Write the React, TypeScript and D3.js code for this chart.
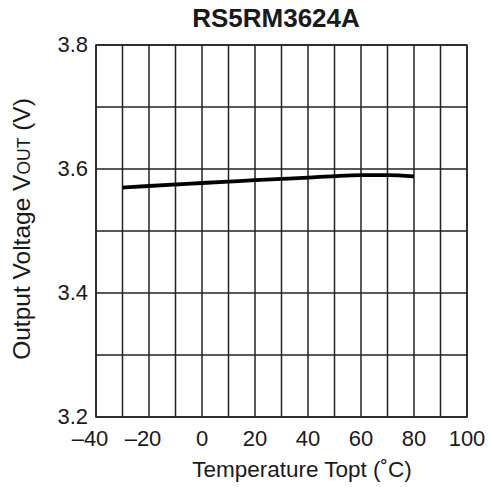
import React from "react";
import * as d3 from "d3";

const temps = [-30, -20, -10, 0, 10, 20, 30, 40, 50, 60, 70, 80];
const vout = [3.570, 3.5726, 3.575, 3.5774, 3.5797, 3.582, 3.584, 3.586, 3.5885, 3.5900, 3.5900, 3.588];
const xTicks = [-40, -20, 0, 20, 40, 60, 80, 100];
const xGrid = d3.range(-40, 101, 10);
const yTicks = [3.2, 3.4, 3.6, 3.8];
const yGrid = [3.2, 3.3, 3.4, 3.5, 3.6, 3.7, 3.8];
const title = "RS5RM3624A";

export default function App() {
  const W = 488, H = 487;
  const L = 96, R = 467, T = 45, B = 417;
  const x = d3.scaleLinear().domain([-40, 100]).range([L, R]);
  const y = d3.scaleLinear().domain([3.2, 3.8]).range([B, T]);
  const line = d3.line<number>().x((_, i) => x(temps[i])).y((d) => y(d)).curve(d3.curveMonotoneX);
  const font = "'Liberation Sans', Arial, Helvetica, sans-serif";
  const fmtX = (v: number) => (v < 0 ? "\u2013" + Math.abs(v) : String(v));
  return (
    <svg width={W} height={H} style={{ position: "absolute", left: 0, top: 0, background: "#fff" }} fontFamily={font}>
      <rect x={0} y={0} width={W} height={H} fill="#fff" />
      <text x={276} y={27} textAnchor="middle" fontSize={26} fontWeight="bold" fill="#1a1a1a">{title}</text>
      {xGrid.map((v) => (
        <line key={"x" + v} x1={x(v)} x2={x(v)} y1={T} y2={B} stroke="#222" strokeWidth={1.5} />
      ))}
      {yGrid.map((v) => (
        <line key={"y" + v} x1={L} x2={R} y1={y(v)} y2={y(v)} stroke="#222" strokeWidth={1.5} />
      ))}
      <rect x={L} y={T} width={R - L} height={B - T} fill="none" stroke="#222" strokeWidth={1.5} />
      <path d={line(vout) || ""} fill="none" stroke="#000" strokeWidth={3.8} />
      {yTicks.map((v) => (
        <text key={"yl" + v} x={88} y={y(v) + 7} textAnchor="end" fontSize={22} fill="#1a1a1a">{v.toFixed(1)}</text>
      ))}
      {xTicks.map((v) => (
        <text key={"xl" + v} x={x(v) + (v < 0 ? -6 : 0)} y={446} textAnchor="middle" fontSize={22} fill="#1a1a1a">{fmtX(v)}</text>
      ))}
      <text x={302} y={477} textAnchor="middle" fontSize={22.5} fill="#1a1a1a">Temperature Topt (˚C)</text>
      <text transform={`translate(30, 229) rotate(-90)`} textAnchor="middle" fontSize={24.5} fill="#1a1a1a">
        Output Voltage V<tspan fontSize={17.5}>OUT</tspan> (V)
      </text>
    </svg>
  );
}
